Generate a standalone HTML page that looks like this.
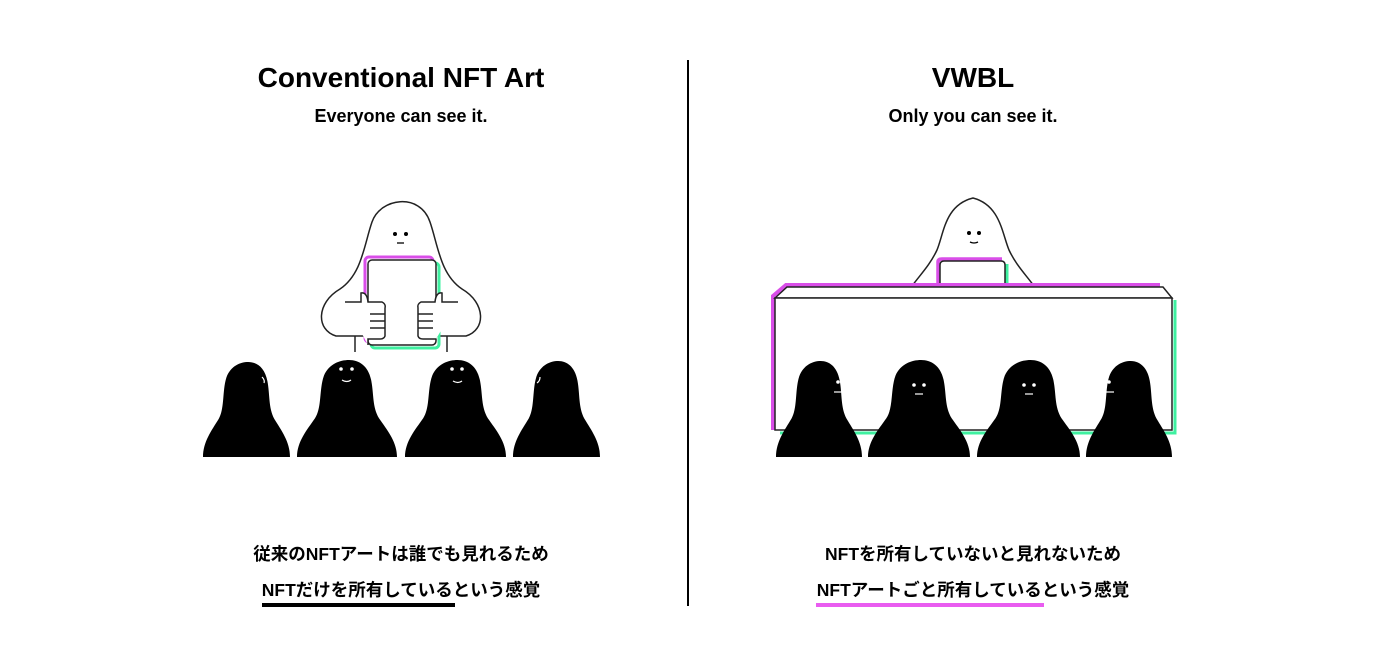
<!DOCTYPE html>
<html><head><meta charset="utf-8"><style>
html,body{margin:0;padding:0;background:#fff;}
body{width:1382px;height:664px;overflow:hidden;position:relative;font-family:"Liberation Sans","Noto Sans CJK JP",sans-serif;}
.t{position:absolute;text-align:center;font-weight:bold;color:#000;white-space:nowrap;}
</style></head><body>
<svg width="1382" height="664" style="position:absolute;left:0;top:0" xmlns="http://www.w3.org/2000/svg">
<defs>
<path id="fig" d="M0,100 C0,84 10,72 18,60 C25,49 22,30 27,16 C32,4 43,0 52,0 C62,0 71,6 74,20 C77,34 75,48 82,60 C90,72 100,84 100,100 Z"/>
</defs>
<line x1="688" y1="60" x2="688" y2="606" stroke="#000" stroke-width="2"/>
<!-- LEFT ghost -->
<path d="M336,336 C316,330 316,303 340,289 C362,274 364,245 372,222 C380,198 420,192 430,222 C438,245 440,274 462,289 C486,303 486,330 466,336 Z" fill="#fff" stroke="#222" stroke-width="1.5"/>
<line x1="355" y1="336" x2="355" y2="352" stroke="#222" stroke-width="1.5"/>
<line x1="447" y1="336" x2="447" y2="352" stroke="#222" stroke-width="1.5"/>
<circle cx="395" cy="234" r="2" fill="#000"/><circle cx="406" cy="234" r="2" fill="#000"/>
<line x1="397" y1="243" x2="404" y2="243" stroke="#000" stroke-width="1.3"/>
<rect x="365" y="257" width="68" height="85" rx="4" fill="none" stroke="#d94ee8" stroke-width="3"/>
<rect x="371" y="263" width="68" height="85" rx="4" fill="none" stroke="#3ff0a0" stroke-width="3"/>
<rect x="368" y="260" width="68" height="85" rx="4" fill="#fff" stroke="#222" stroke-width="1.5"/>
<g fill="#fff" stroke="#222" stroke-width="1.5">
<path d="M345,302 L361,302 L361,293 Q367,292 368,302 L382,302 Q386,304 385,308 L385,336 Q384,339 380,339 L368,339 L368,345"/>
<line x1="370" y1="314" x2="385" y2="314"/><line x1="370" y1="321" x2="385" y2="321"/><line x1="370" y1="328" x2="385" y2="328"/>
<path d="M458,302 L442,302 L442,293 Q436,292 435,302 L421,302 Q417,304 418,308 L418,336 Q419,339 423,339 L436,339"/>
<line x1="418" y1="314" x2="433" y2="314"/><line x1="418" y1="321" x2="433" y2="321"/><line x1="418" y1="328" x2="433" y2="328"/>
</g>
<!-- LEFT audience -->
<use href="#fig" transform="translate(203,362) scale(0.87,0.95)"/>
<use href="#fig" transform="translate(297,360) scale(1.0,0.97)"/>
<use href="#fig" transform="translate(405,360) scale(1.01,0.97)"/>
<use href="#fig" transform="translate(513,361) scale(0.87,0.96)"/>
<g fill="#fff"><circle cx="266" cy="368" r="1.8"/><circle cx="341" cy="369" r="1.8"/><circle cx="352" cy="369" r="1.8"/><circle cx="452" cy="369" r="1.8"/><circle cx="462" cy="369" r="1.8"/><circle cx="538" cy="369" r="1.8"/></g>
<g fill="none" stroke="#fff" stroke-width="1.2"><path d="M262,377 q3,3 2,6"/><path d="M342,380 q5,3 9,0"/><path d="M453,381 q5,3 9,0"/><path d="M540,377 q0,4 -3,6"/></g>
<!-- RIGHT ghost -->
<path d="M912,286 C920,275 930,265 937,250 C944,233 945,205 973,198 C1000,205 1002,233 1009,250 C1016,265 1026,275 1034,286 Z" fill="#fff" stroke="#222" stroke-width="1.5"/>
<circle cx="969" cy="233" r="2" fill="#000"/><circle cx="979" cy="233" r="2" fill="#000"/>
<path d="M970,242 q4,2 8,0" fill="none" stroke="#000" stroke-width="1.3"/>
<path d="M938,285 L938,262 Q938,259 942,259 L1002,259" fill="none" stroke="#d94ee8" stroke-width="3.5"/>
<path d="M1007,264 L1007,286" stroke="#3ff0a0" stroke-width="3"/>
<path d="M940,287 L940,265 Q940,261 944,261 L1001,261 Q1005,261 1005,265 L1005,287" fill="#fff" stroke="#222" stroke-width="1.5"/>
<!-- box -->
<path d="M773,430 L773,296 L786,285 L1160,285" fill="none" stroke="#d94ee8" stroke-width="4"/>
<path d="M1175,300 L1175,433 L780,433" fill="none" stroke="#3ff0a0" stroke-width="3"/>
<path d="M775,298 L787,287 L1163,287 L1172,298 Z" fill="#fff" stroke="#222" stroke-width="1.5"/>
<rect x="775" y="298" width="397" height="132" fill="#fff" stroke="#222" stroke-width="1.5"/>
<!-- RIGHT audience -->
<use href="#fig" transform="translate(776,361) scale(0.86,0.96)"/>
<use href="#fig" transform="translate(868,360) scale(1.02,0.97)"/>
<use href="#fig" transform="translate(977,360) scale(1.03,0.97)"/>
<use href="#fig" transform="translate(1086,361) scale(0.86,0.96)"/>
<g fill="#fff"><circle cx="838" cy="382" r="1.8"/><circle cx="914" cy="385" r="1.8"/><circle cx="924" cy="385" r="1.8"/><circle cx="1024" cy="385" r="1.8"/><circle cx="1034" cy="385" r="1.8"/><circle cx="1109" cy="382" r="1.8"/></g>
<g stroke="#fff" stroke-width="1.2"><line x1="834" y1="392" x2="842" y2="392"/><line x1="915" y1="394" x2="923" y2="394"/><line x1="1025" y1="394" x2="1033" y2="394"/><line x1="1106" y1="392" x2="1114" y2="392"/></g>
<!-- underlines -->
<rect x="262" y="603" width="193" height="4" fill="#000"/>
<rect x="816" y="603" width="228" height="4" fill="#e95cf0"/>
</svg>
<div class="t" style="left:201px;width:400px;top:62px;font-size:28px;">Conventional NFT Art</div>
<div class="t" style="left:201px;width:400px;top:106px;font-size:18px;">Everyone can see it.</div>
<div class="t" style="left:773px;width:400px;top:62px;font-size:28px;">VWBL</div>
<div class="t" style="left:773px;width:400px;top:106px;font-size:18px;">Only you can see it.</div>
<div class="t" style="left:201px;width:400px;top:541px;font-size:17.5px;">従来のNFTアートは誰でも見れるため</div>
<div class="t" style="left:201px;width:400px;top:577px;font-size:17.5px;">NFTだけを所有しているという感覚</div>
<div class="t" style="left:773px;width:400px;top:541px;font-size:17.5px;">NFTを所有していないと見れないため</div>
<div class="t" style="left:773px;width:400px;top:577px;font-size:17.5px;">NFTアートごと所有しているという感覚</div>
</body></html>
